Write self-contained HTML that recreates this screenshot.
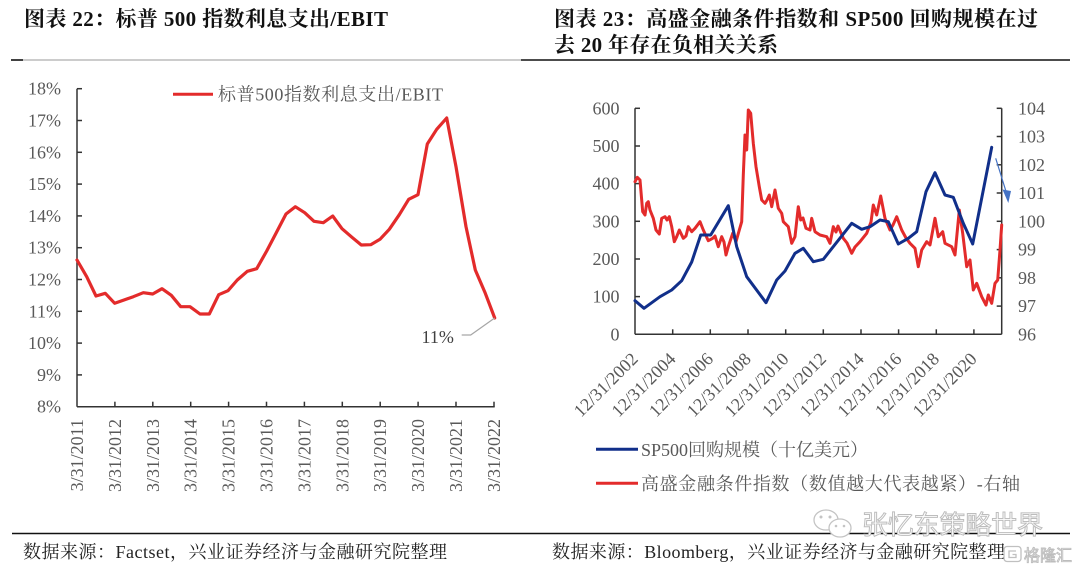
<!DOCTYPE html>
<html>
<head>
<meta charset="utf-8">
<style>
  html,body{margin:0;padding:0;background:#fff;}
  body{width:1080px;height:570px;overflow:hidden;}
  svg{display:block;}
  .t{font-family:"Liberation Serif","Noto Serif CJK SC",serif;}
  .tick{font-family:"Liberation Serif","Noto Serif CJK SC",serif;font-size:18px;fill:#595959;}
</style>
</head>
<body>
<svg width="1080" height="570" viewBox="0 0 1080 570" xmlns="http://www.w3.org/2000/svg">
  <!-- Titles -->
  <text class="t" x="24" y="26" font-size="21" font-weight="bold" fill="#111" textLength="364" lengthAdjust="spacing">图表 22：标普 500 指数利息支出/EBIT</text>
  <text class="t" x="554" y="26" font-size="21" font-weight="bold" fill="#111" textLength="484" lengthAdjust="spacing">图表 23：高盛金融条件指数和 SP500 回购规模在过</text>
  <text class="t" x="554" y="52" font-size="21" font-weight="bold" fill="#111" textLength="224" lengthAdjust="spacing">去 20 年存在负相关关系</text>

  <!-- top rule -->
  <line x1="12" y1="60" x2="521" y2="60" stroke="#9a9a9a" stroke-width="1"/>
  <line x1="11" y1="60" x2="23" y2="60" stroke="#111" stroke-width="1.6"/>
  <line x1="521" y1="60" x2="1070" y2="60" stroke="#111" stroke-width="1.5"/>

  <!-- bottom rule -->
  <line x1="12" y1="533.5" x2="1070" y2="533.5" stroke="#111" stroke-width="1.5"/>

  <!-- ============ LEFT CHART ============ -->
  <g stroke="#333" stroke-width="1.5" fill="none">
    <line x1="77" y1="88.7" x2="77" y2="406.7"/>
    <line x1="77" y1="406.7" x2="494.7" y2="406.7"/>
    <!-- y ticks (inward) -->
    <line x1="77" y1="88.7" x2="82" y2="88.7"/>
    <line x1="77" y1="120.5" x2="82" y2="120.5"/>
    <line x1="77" y1="152.3" x2="82" y2="152.3"/>
    <line x1="77" y1="184.1" x2="82" y2="184.1"/>
    <line x1="77" y1="215.9" x2="82" y2="215.9"/>
    <line x1="77" y1="247.7" x2="82" y2="247.7"/>
    <line x1="77" y1="279.5" x2="82" y2="279.5"/>
    <line x1="77" y1="311.3" x2="82" y2="311.3"/>
    <line x1="77" y1="343.1" x2="82" y2="343.1"/>
    <line x1="77" y1="374.9" x2="82" y2="374.9"/>
    <!-- x ticks (inward) -->
    <line x1="114.9" y1="406.7" x2="114.9" y2="401.7"/>
    <line x1="152.8" y1="406.7" x2="152.8" y2="401.7"/>
    <line x1="190.7" y1="406.7" x2="190.7" y2="401.7"/>
    <line x1="228.6" y1="406.7" x2="228.6" y2="401.7"/>
    <line x1="266.5" y1="406.7" x2="266.5" y2="401.7"/>
    <line x1="304.4" y1="406.7" x2="304.4" y2="401.7"/>
    <line x1="342.3" y1="406.7" x2="342.3" y2="401.7"/>
    <line x1="380.2" y1="406.7" x2="380.2" y2="401.7"/>
    <line x1="418.1" y1="406.7" x2="418.1" y2="401.7"/>
    <line x1="456" y1="406.7" x2="456" y2="401.7"/>
    <line x1="494" y1="406.7" x2="494" y2="401.7"/>
  </g>
  <g class="tick" text-anchor="end">
    <text x="61" y="94.7">18%</text>
    <text x="61" y="126.5">17%</text>
    <text x="61" y="158.3">16%</text>
    <text x="61" y="190.1">15%</text>
    <text x="61" y="221.9">14%</text>
    <text x="61" y="253.7">13%</text>
    <text x="61" y="285.5">12%</text>
    <text x="61" y="317.3">11%</text>
    <text x="61" y="349.1">10%</text>
    <text x="61" y="380.9">9%</text>
    <text x="61" y="412.7">8%</text>
  </g>
  <g class="tick" text-anchor="end">
    <text transform="translate(83,419) rotate(-90)">3/31/2011</text>
    <text transform="translate(120.9,419) rotate(-90)">3/31/2012</text>
    <text transform="translate(158.8,419) rotate(-90)">3/31/2013</text>
    <text transform="translate(196.7,419) rotate(-90)">3/31/2014</text>
    <text transform="translate(234.6,419) rotate(-90)">3/31/2015</text>
    <text transform="translate(272.5,419) rotate(-90)">3/31/2016</text>
    <text transform="translate(310.4,419) rotate(-90)">3/31/2017</text>
    <text transform="translate(348.3,419) rotate(-90)">3/31/2018</text>
    <text transform="translate(386.2,419) rotate(-90)">3/31/2019</text>
    <text transform="translate(424.1,419) rotate(-90)">3/31/2020</text>
    <text transform="translate(462,419) rotate(-90)">3/31/2021</text>
    <text transform="translate(500,419) rotate(-90)">3/31/2022</text>
  </g>
  <!-- legend left -->
  <line x1="173" y1="94.3" x2="213" y2="94.3" stroke="#e32b2b" stroke-width="3"/>
  <text class="t" x="218" y="100.5" font-size="18" fill="#595959" textLength="225" lengthAdjust="spacing">标普500指数利息支出/EBIT</text>
  <!-- series left -->
  <polyline fill="none" stroke="#e32b2b" stroke-width="3.2" stroke-linejoin="round" stroke-linecap="round"
    points="77,260 86.7,276.7 96,296 105.3,293.3 114.7,303.3 124,300 133.3,296.7 143.3,292.7 152.7,294 162,288.7 171.3,295.3 180.7,306.7 190,306.7 200,314 209.3,314 218.7,294.7 228,290.7 237.3,280 247.3,271.3 256.7,268.7 266.7,251 276,233.3 286,214 295.3,206.7 304.7,212.7 314,221.3 323.3,222.7 332.7,216 342,228.7 352,237.3 361.3,245 370.7,244.7 380,239.3 389.3,229.3 399.3,214.7 408.7,199.3 418,194.7 427.3,144 436.7,129.3 446.7,118 456,166.7 466,226.7 475.3,270 485.3,293.3 494.7,318"/>
  <!-- annotation -->
  <polyline fill="none" stroke="#a6a6a6" stroke-width="1.2" points="461.7,335 470.7,335 494.7,318"/>
  <text class="t" x="421.5" y="343" font-size="18" fill="#404040">11%</text>

  <!-- ============ RIGHT CHART ============ -->
  <g stroke="#333" stroke-width="1.5" fill="none">
    <line x1="635" y1="108.3" x2="635" y2="334.3"/>
    <line x1="1001.7" y1="108.3" x2="1001.7" y2="334.3"/>
    <line x1="635" y1="334.3" x2="1001.7" y2="334.3"/>
    <!-- left y ticks -->
    <line x1="635" y1="108.3" x2="640" y2="108.3"/>
    <line x1="635" y1="146" x2="640" y2="146"/>
    <line x1="635" y1="183.6" x2="640" y2="183.6"/>
    <line x1="635" y1="221.3" x2="640" y2="221.3"/>
    <line x1="635" y1="259" x2="640" y2="259"/>
    <line x1="635" y1="296.6" x2="640" y2="296.6"/>
    <!-- right y ticks -->
    <line x1="1001.7" y1="108.3" x2="996.7" y2="108.3"/>
    <line x1="1001.7" y1="136.5" x2="996.7" y2="136.5"/>
    <line x1="1001.7" y1="164.8" x2="996.7" y2="164.8"/>
    <line x1="1001.7" y1="193" x2="996.7" y2="193"/>
    <line x1="1001.7" y1="221.3" x2="996.7" y2="221.3"/>
    <line x1="1001.7" y1="249.6" x2="996.7" y2="249.6"/>
    <line x1="1001.7" y1="277.8" x2="996.7" y2="277.8"/>
    <line x1="1001.7" y1="306.1" x2="996.7" y2="306.1"/>
    <!-- x ticks -->
    <line x1="672.7" y1="334.3" x2="672.7" y2="329.3"/>
    <line x1="710.3" y1="334.3" x2="710.3" y2="329.3"/>
    <line x1="748" y1="334.3" x2="748" y2="329.3"/>
    <line x1="785.7" y1="334.3" x2="785.7" y2="329.3"/>
    <line x1="823.3" y1="334.3" x2="823.3" y2="329.3"/>
    <line x1="861" y1="334.3" x2="861" y2="329.3"/>
    <line x1="898.6" y1="334.3" x2="898.6" y2="329.3"/>
    <line x1="936.3" y1="334.3" x2="936.3" y2="329.3"/>
    <line x1="973.9" y1="334.3" x2="973.9" y2="329.3"/>
  </g>
  <g class="tick" text-anchor="end">
    <text x="619.5" y="114.3">600</text>
    <text x="619.5" y="152">500</text>
    <text x="619.5" y="189.6">400</text>
    <text x="619.5" y="227.3">300</text>
    <text x="619.5" y="265">200</text>
    <text x="619.5" y="302.6">100</text>
    <text x="619.5" y="340.3">0</text>
  </g>
  <g class="tick">
    <text x="1018" y="114.3">104</text>
    <text x="1018" y="142.5">103</text>
    <text x="1018" y="170.8">102</text>
    <text x="1018" y="199">101</text>
    <text x="1018" y="227.3">100</text>
    <text x="1018" y="255.6">99</text>
    <text x="1018" y="283.8">98</text>
    <text x="1018" y="312.1">97</text>
    <text x="1018" y="340.3">96</text>
  </g>
  <g class="tick" text-anchor="end">
    <text transform="translate(639,360) rotate(-45)">12/31/2002</text>
    <text transform="translate(676.7,360) rotate(-45)">12/31/2004</text>
    <text transform="translate(714.3,360) rotate(-45)">12/31/2006</text>
    <text transform="translate(752,360) rotate(-45)">12/31/2008</text>
    <text transform="translate(789.7,360) rotate(-45)">12/31/2010</text>
    <text transform="translate(827.3,360) rotate(-45)">12/31/2012</text>
    <text transform="translate(865,360) rotate(-45)">12/31/2014</text>
    <text transform="translate(902.6,360) rotate(-45)">12/31/2016</text>
    <text transform="translate(940.3,360) rotate(-45)">12/31/2018</text>
    <text transform="translate(977.9,360) rotate(-45)">12/31/2020</text>
  </g>

  <!-- red series (right axis) -->
  <polyline fill="none" stroke="#e32b2b" stroke-width="3" stroke-linejoin="round" stroke-linecap="round"
    points="635,181.7 637.3,177.3 640,180 642.7,211.7 645,215 646.7,203.3 648.3,201.7 650,210 653.3,218.3 656,230 659.3,234 661.7,218.3 665,216.7 667,220 669.3,216.7 671.7,226.7 674.3,241.7 676.7,236.7 679.3,230 683.3,238.3 686,236 688.3,226.7 691.7,231.7 695,228.3 700,221.7 703.3,230 708.3,240.7 712.7,238.3 715,236 718.3,246.7 721.7,236.7 724,242 726,255 728.3,246.7 732.7,233.3 736,241.7 739.3,230 741.7,221.7 743.3,175 745,135 746.7,150 748.3,110 750.7,113.3 753.3,143.3 756,166.7 759.3,186.7 761.7,200 765,203.3 767,200 769.3,195 771.7,206.7 775,190 778.3,208.3 781.7,213.3 783.3,221.7 788.3,226.7 791.7,243.3 795,236.7 798.3,206.7 800.7,220 803,218 806,228.3 810,230 811.7,218.3 815,231.7 820,235 826.7,236.7 830,243.3 833.3,226.7 836,232 838,226 843.3,238.3 847,243 851.7,253.3 855,247 860,241.7 866.7,233.3 871,222 873.3,205 876.7,215 880.7,196 885,218.3 890,230 893,225 896.7,216.7 901.7,230 906,238 910,243.3 915,248.3 918.3,266.7 921.7,250 926.7,241.7 930,245 935,218.3 938.3,236.7 942.7,231.7 945,243.3 951.7,246.7 955,255 959.3,210 962.7,233.3 966.7,266.7 970,260 973.3,290 976.7,283.3 981.7,296.7 986,305 988.3,295 991.7,303.3 995,283.3 997.7,280 1000,250 1001.7,225"/>
  <!-- blue series (left axis) -->
  <polyline fill="none" stroke="#112f8a" stroke-width="3" stroke-linejoin="round" stroke-linecap="round"
    points="635,300.7 644,308.3 660,296.7 671.7,290 681.7,280.7 691.7,262 700.7,235 710.7,235 728.3,205.7 736.7,246.7 746.7,276.7 766,302.7 776.7,280 785,271 795,253.3 803.3,248.3 813.3,261.7 823.3,259.3 851.7,223.3 861.7,229.3 870,226.7 880,220 888.3,221.7 898.3,244 908.3,238.3 916.7,231.7 926,191.7 935,172.7 945,195 953.3,197.3 963.3,223.3 972.7,244 991.7,147.3"/>

  <!-- arrow annotation -->
  <line x1="995.7" y1="158.3" x2="1006.5" y2="193" stroke="#4472c4" stroke-width="1.2"/>
  <polygon points="1002.5,189.5 1011,191 1008.3,203" fill="#4472c4"/>

  <!-- right legend -->
  <line x1="596" y1="449.3" x2="638" y2="449.3" stroke="#112f8a" stroke-width="3"/>
  <text class="t" x="641" y="455.8" font-size="18" fill="#595959" textLength="227" lengthAdjust="spacing">SP500回购规模（十亿美元）</text>
  <line x1="596" y1="483.3" x2="638" y2="483.3" stroke="#e32b2b" stroke-width="3"/>
  <text class="t" x="641" y="489.8" font-size="18" fill="#595959" textLength="379" lengthAdjust="spacing">高盛金融条件指数（数值越大代表越紧）-右轴</text>

  <!-- watermark -->
  <g fill="none" stroke="#c4c4c4" stroke-width="1.3">
    <ellipse cx="826" cy="520" rx="12" ry="10"/>
    <ellipse cx="840" cy="528" rx="11" ry="9" fill="#fff"/>
  </g>
  <g fill="#c4c4c4">
    <circle cx="821" cy="517" r="1.5"/>
    <circle cx="830" cy="517" r="1.5"/>
    <circle cx="836" cy="526" r="1.3"/>
    <circle cx="844" cy="526" r="1.3"/>
  </g>
  <text x="862" y="534" font-family="'Liberation Sans','Noto Sans CJK SC',sans-serif" font-size="26" fill="#fff" stroke="#bdbdbd" stroke-width="1" textLength="181" lengthAdjust="spacing">张忆东策略世界</text>

  <!-- sources -->
  <text class="t" x="23" y="558" font-size="18" fill="#222" textLength="424" lengthAdjust="spacing">数据来源：Factset，兴业证券经济与金融研究院整理</text>
  <text class="t" x="552" y="558" font-size="18" fill="#222" textLength="453" lengthAdjust="spacing">数据来源：Bloomberg，兴业证券经济与金融研究院整理</text>

  <!-- gelonghui logo -->
  <rect x="1004" y="546.5" width="17" height="15" rx="3" fill="none" stroke="#c0c0c0" stroke-width="1.3"/>
  <path d="M1016,551 L1009,551 L1009,557.5 L1016,557.5 L1016,554.5 L1012.5,554.5" fill="none" stroke="#c0c0c0" stroke-width="1.3"/>
  <text x="1024" y="561" font-family="'Liberation Sans','Noto Sans CJK SC',sans-serif" font-size="16" fill="#fff" stroke="#bdbdbd" stroke-width="0.9" textLength="48" lengthAdjust="spacing">格隆汇</text>
</svg>
</body>
</html>
